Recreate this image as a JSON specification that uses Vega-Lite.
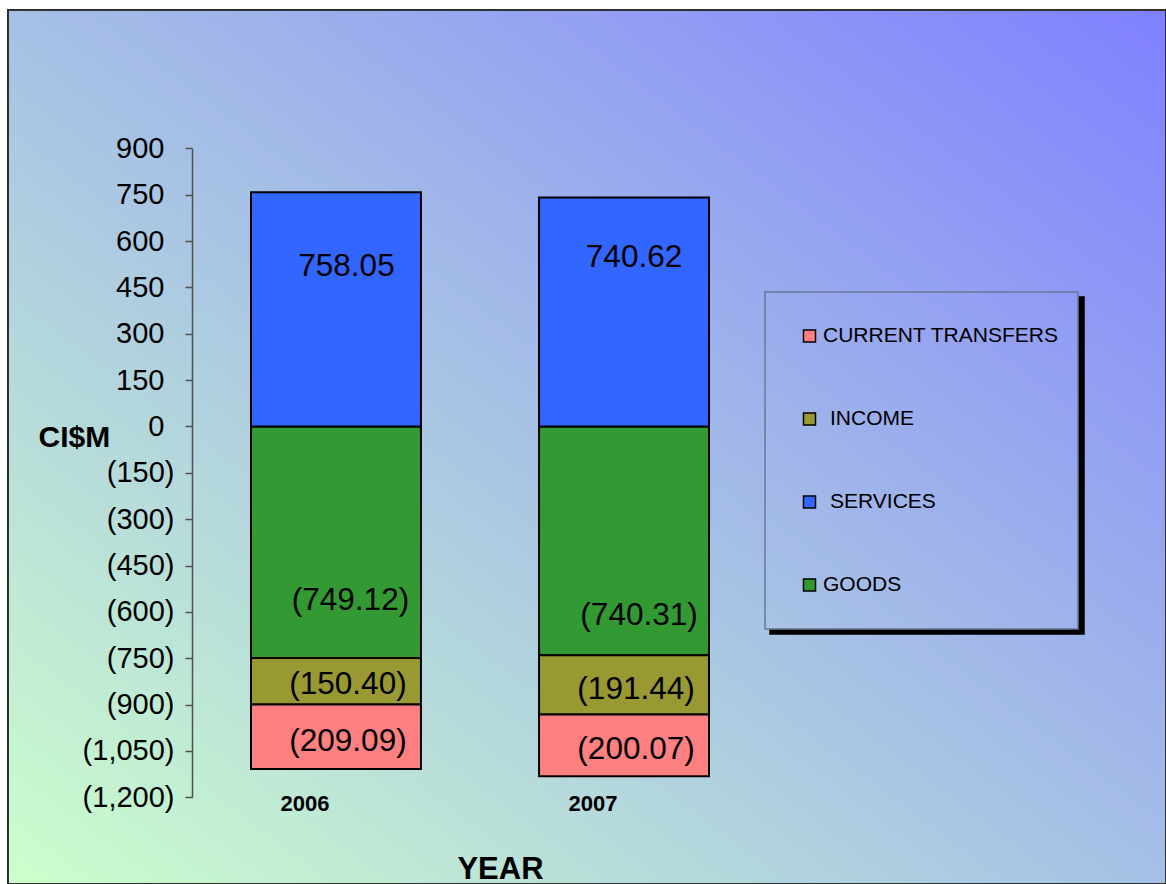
{
  "$schema": "https://vega.github.io/schema/vega-lite/v6.json",
  "width": 1158,
  "height": 874,
  "autosize": {"type": "none"},
  "padding": {"left": 8, "top": 10, "right": 0, "bottom": 0},
  "background": "white",
  "config": {
    "view": {
      "fill": {"gradient": "linear", "x1": 0, "y1": 1, "x2": 1, "y2": 0,
        "stops": [{"offset": 0, "color": "#CCFFCC"}, {"offset": 1, "color": "#8080FF"}]},
      "stroke": "#303030",
      "strokeWidth": 2
    },
    "font": "Liberation Sans",
    "axis": {"grid": false},
    "axisY": {
      "orient": "left", "offset": -184, "tickSize": 7, "tickColor": "#505050", "tickWidth": 1.5,
      "domainColor": "#505050", "domainWidth": 1.5,
      "labelFont": "Liberation Sans", "labelFontSize": 29, "labelColor": "black",
      "labelFlush": false, "labelOverlap": false
    },
    "legend": {"strokeWidth": 1.5},
    "text": {"font": "Liberation Sans", "fontSize": 31.5, "color": "black", "baseline": "middle"}
  },
  "resolve": {"axis": {"y": "independent"}},
  "data": {"values": [
    {"year": "2006", "category": "GOODS", "value": -749.12},
    {"year": "2006", "category": "SERVICES", "value": 758.05},
    {"year": "2006", "category": "INCOME", "value": -150.40},
    {"year": "2006", "category": "CURRENT TRANSFERS", "value": -209.09},
    {"year": "2007", "category": "GOODS", "value": -740.31},
    {"year": "2007", "category": "SERVICES", "value": 740.62},
    {"year": "2007", "category": "INCOME", "value": -191.44},
    {"year": "2007", "category": "CURRENT TRANSFERS", "value": -200.07}
  ]},
  "layer": [
    {
      "mark": {"type": "bar", "stroke": "black", "strokeWidth": 2},
      "encoding": {
        "x": {
          "field": "year", "type": "nominal",
          "scale": {"range": [243, 701], "paddingInner": 0.41, "paddingOuter": 0},
          "axis": {
            "title": "YEAR", "labelAngle": 0, "domain": false, "ticks": false, "tickSize": 0,
            "labelPadding": 0, "labelBaseline": "alphabetic", "offset": -74,
            "labelFont": "Liberation Sans", "labelFontSize": 22, "labelFontWeight": "bold",
            "labelColor": "black", "labelOffset": -31,
            "titleFont": "Liberation Sans", "titleFontSize": 31, "titleFontWeight": "bold",
            "titleColor": "black", "titleX": 492, "titleY": 68, "titleAlign": "center",
            "titleBaseline": "alphabetic"
          }
        },
        "y": {
          "field": "value", "type": "quantitative", "stack": "zero",
          "scale": {"domain": [-1200, 900], "range": [787.3, 138.3], "nice": false, "zero": false},
          "axis": {
            "title": "CI$M", "orient": "left",
            "values": [-1200, -1050, -900, -750, -600, -450, -300, -150],
            "labelExpr": "'(' + format(-datum.value, ',') + ')'",
            "labelPadding": 11,
            "titleAngle": 0, "titleX": -154, "titleY": 436, "titleAlign": "left",
            "titleBaseline": "alphabetic", "titleFont": "Liberation Sans", "titleFontSize": 30,
            "titleFontWeight": "bold", "titleColor": "black"
          }
        },
        "color": {
          "field": "category", "type": "nominal",
          "scale": {
            "domain": ["CURRENT TRANSFERS", "INCOME", "SERVICES", "GOODS"],
            "range": ["#FF8080", "#999933", "#3366FF", "#339933"]
          },
          "legend": {
            "orient": "none", "legendX": 757, "legendY": 282, "title": null,
            "direction": "vertical", "padding": 19, "clipHeight": 50, "rowPadding": 33,
            "symbolType": "square", "symbolSize": 144, "symbolStrokeColor": "black",
            "symbolStrokeWidth": 1.5, "symbolOffset": 15, "labelOffset": 3,
            "labelFont": "Liberation Sans", "labelFontSize": 21, "labelColor": "black",
            "labelLimit": 400,
            "encode": {"labels": {"update": {"dx": {"signal": "(datum.label === 'INCOME' || datum.label === 'SERVICES') ? 7 : 0"}}}},
            "fillColor": {"value": {"gradient": "linear", "x1": -0.0424, "y1": 1.2734, "x2": 1.0424, "y2": -0.2734,
              "stops": [{"offset": 0, "color": "#ADCBE1"}, {"offset": 1, "color": "#8B92F8"}]}},
            "strokeColor": "#6a7898", "zindex": 2
          }
        },
        "order": {"field": "year"}
      }
    },
    {
      "transform": [{"filter": "datum.category === 'SERVICES' && datum.year === '2006'"}],
      "mark": {"type": "text", "dx": 10.5},
      "encoding": {
        "x": {"field": "year", "type": "nominal"},
        "y": {"field": "value", "type": "quantitative", "stack": "zero", "bandPosition": 0.68, "axis": null},
        "detail": {"field": "category"},
        "text": {"field": "value", "type": "quantitative", "format": "(.2f"}
      }
    },
    {
      "transform": [{"filter": "datum.category === 'SERVICES' && datum.year === '2007'"}],
      "mark": {"type": "text", "dx": 10},
      "encoding": {
        "x": {"field": "year", "type": "nominal"},
        "y": {"field": "value", "type": "quantitative", "stack": "zero", "bandPosition": 0.738, "axis": null},
        "detail": {"field": "category"},
        "text": {"field": "value", "type": "quantitative", "format": "(.2f"}
      }
    },
    {
      "transform": [{"filter": "datum.category === 'GOODS' && datum.year === '2006'"}],
      "mark": {"type": "text", "dx": 14.5},
      "encoding": {
        "x": {"field": "year", "type": "nominal"},
        "y": {"field": "value", "type": "quantitative", "stack": "zero", "bandPosition": 0.756, "axis": null},
        "detail": {"field": "category"},
        "text": {"field": "value", "type": "quantitative", "format": "(.2f"}
      }
    },
    {
      "transform": [{"filter": "datum.category === 'GOODS' && datum.year === '2007'"}],
      "mark": {"type": "text", "dx": 15},
      "encoding": {
        "x": {"field": "year", "type": "nominal"},
        "y": {"field": "value", "type": "quantitative", "stack": "zero", "bandPosition": 0.83, "axis": null},
        "detail": {"field": "category"},
        "text": {"field": "value", "type": "quantitative", "format": "(.2f"}
      }
    },
    {
      "mark": {"type": "text", "dx": 12},
      "encoding": {
        "x": {"field": "year", "type": "nominal"},
        "y": {"field": "value", "type": "quantitative", "stack": "zero", "bandPosition": 0.58, "axis": null},
        "detail": {"field": "category"},
        "order": {"field": "year"},
        "text": {
          "condition": {"test": "datum.category === 'INCOME' || datum.category === 'CURRENT TRANSFERS'", "field": "value", "type": "quantitative", "format": "(.2f"},
          "value": ""
        }
      }
    },
    {
      "mark": {"type": "point", "opacity": 0},
      "encoding": {
        "x": {"field": "year", "type": "nominal"},
        "y": {
          "field": "value", "type": "quantitative",
          "axis": {
            "title": null, "orient": "left", "domain": false,
            "values": [0, 150, 300, 450, 600, 750, 900],
            "labelExpr": "format(datum.value, ',')", "labelPadding": 21
          }
        },
        "shape": {
          "field": "category", "type": "nominal",
          "scale": {"domain": ["GOODS", "SERVICES", "INCOME", "CURRENT TRANSFERS"]},
          "legend": {
            "orient": "none", "legendX": 762, "legendY": 287, "title": null,
            "direction": "vertical", "padding": 19, "clipHeight": 50, "rowPadding": 33,
            "symbolSize": 144, "symbolStrokeWidth": 1.5, "symbolOffset": 15, "labelOffset": 240,
            "labelFont": "Liberation Sans", "labelFontSize": 21, "labelColor": "black",
            "labelExpr": "''",
            "labelLimit": 400, "fillColor": "black", "strokeColor": "black",
            "zindex": 1
          }
        }
      }
    }
  ]
}
